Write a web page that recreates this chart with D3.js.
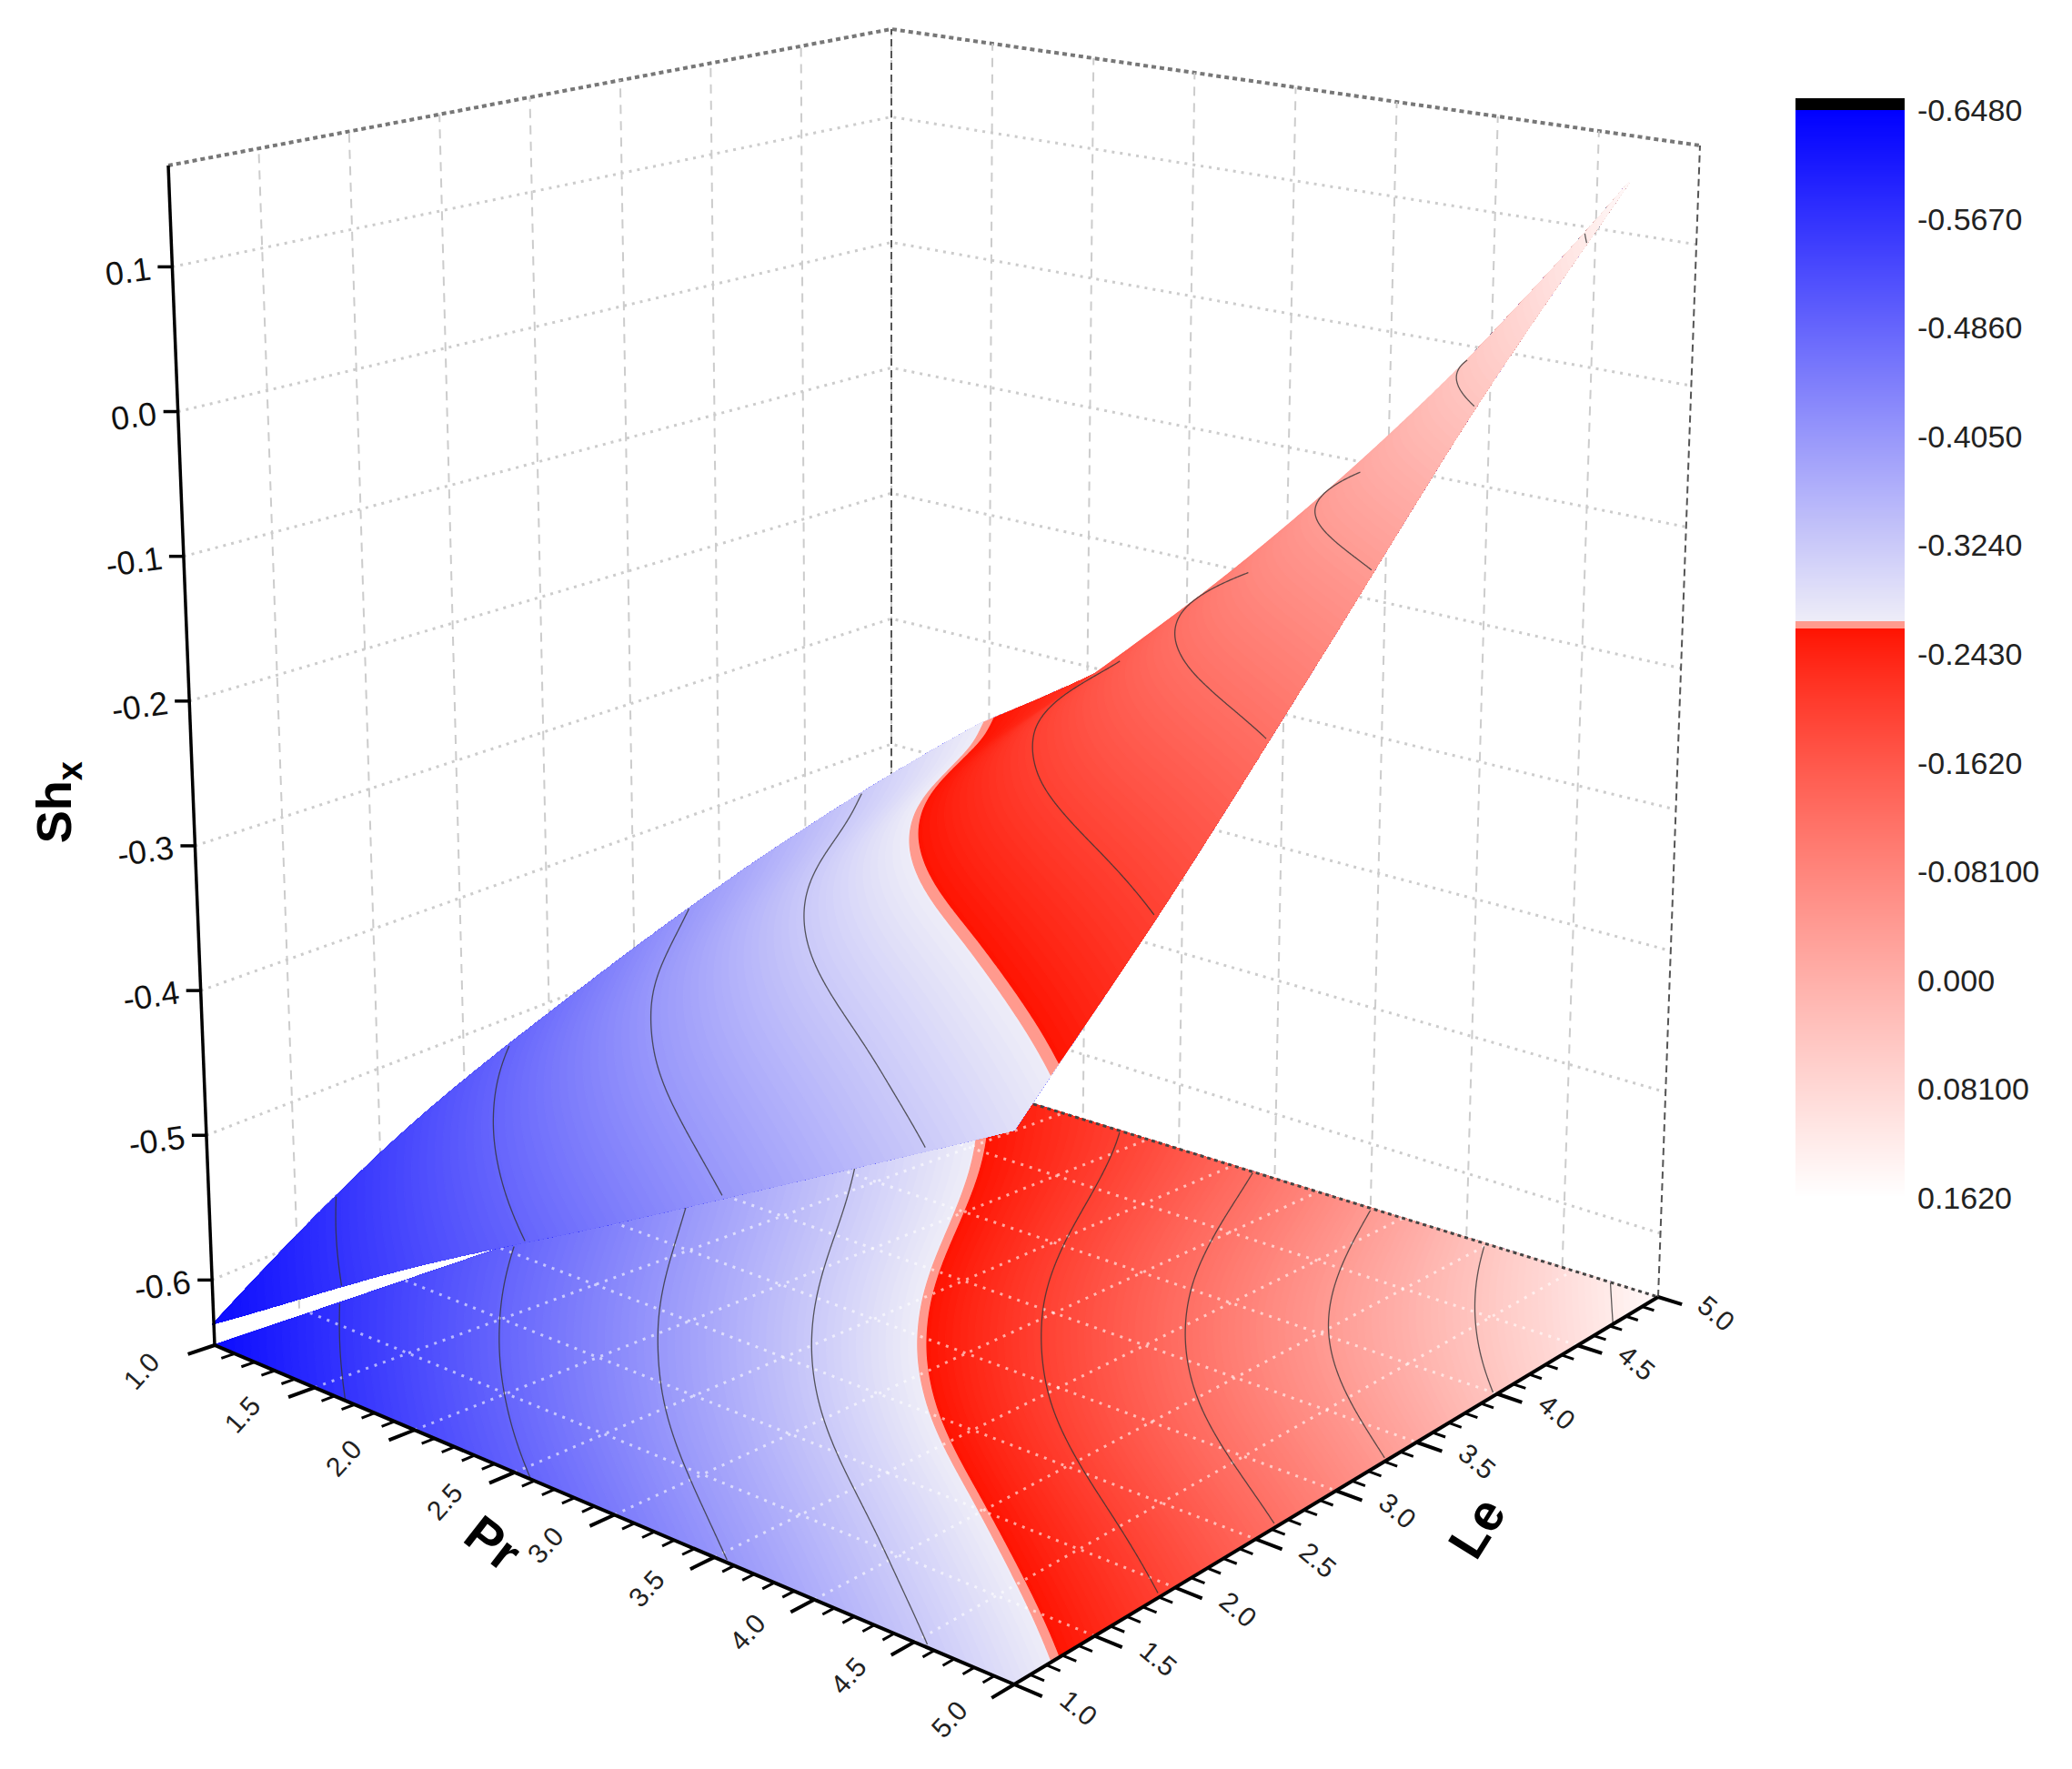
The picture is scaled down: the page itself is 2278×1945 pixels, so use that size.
<!DOCTYPE html>
<html><head><meta charset="utf-8">
<script src="https://cdn.jsdelivr.net/npm/d3@7"></script>
<style>body{margin:0;background:#fff}svg{display:block}text{font-family:"Liberation Sans",Arial,sans-serif}</style>
</head><body>
<svg id="c" width="2278" height="1945"></svg>
<script>
// ---- data ----
const prValues = [1, 2, 3, 4, 5];
const leValues = [1, 2, 3, 4, 5];
// Sh_x grid: rows = Pr, cols = Le
const shRows = [
  [-0.630, -0.535, -0.450, -0.360, -0.268],
  [-0.535, -0.436, -0.344, -0.262, -0.185],
  [-0.452, -0.344, -0.241, -0.150, -0.077],
  [-0.370, -0.265, -0.150, -0.045, 0.042],
  [-0.290, -0.190, -0.077, 0.042, 0.150]
];
const zTicks = [-0.6, -0.5, -0.4, -0.3, -0.2, -0.1, 0.0, 0.1];
const prTicks = [1.0, 1.5, 2.0, 2.5, 3.0, 3.5, 4.0, 4.5, 5.0];
const leTicks = [1.0, 1.5, 2.0, 2.5, 3.0, 3.5, 4.0, 4.5, 5.0];
const cbLabels = ["-0.6480","-0.5670","-0.4860","-0.4050","-0.3240","-0.2430","-0.1620","-0.08100","0.000","0.08100","0.1620"];
const cbValues = [-0.648,-0.567,-0.486,-0.405,-0.324,-0.243,-0.162,-0.081,0,0.081,0.162];
const contourLevels = [-0.567,-0.486,-0.405,-0.324,-0.20,-0.12,-0.04,0.04,0.12];

const svg = d3.select("#c");
const zMin = -0.645, zMax = 0.17;
const su = d3.scaleLinear().domain([1,5]).range([0,1]);
const sv = d3.scaleLinear().domain([1,5]).range([0,1]);
const sw = d3.scaleLinear().domain([zMin,zMax]).range([0,1]);
const Lb=[236,1479], Bb=[1115,1852], Rb=[1823,1426], Kd=[1075,1195];
const Lt=[185,182], Bt=[1115,452], Rtd=[1790,170], Kt=[1085,330];
const Rt=[1869,160], Kw=[980,1156], Kwt=[980,32];
const lerp=(a,b,t)=>[a[0]+(b[0]-a[0])*t,a[1]+(b[1]-a[1])*t];
function bil(p00,p10,p11,p01,u,v){return lerp(lerp(p00,p10,u),lerp(p01,p11,u),v);}
function proj(pr,le,z){
  const u=su(pr), v=sv(le), w=sw(z);
  return lerp(bil(Lb,Bb,Rb,Kd,u,v), bil(Lt,Bt,Rtd,Kt,u,v), w);
}
function leftWall(le,z){const v=sv(le),w=sw(z);return lerp(lerp(Lb,Kw,v),lerp(Lt,Kwt,v),w);}
function rightWall(pr,z){const u=su(pr),w=sw(z);return lerp(lerp(Kw,Rb,u),lerp(Kwt,Rt,u),w);}

// smooth (Catmull-Rom) evaluation of the grid, for rendering only
function cr(p0,p1,p2,p3,t){return 0.5*((2*p1)+(-p0+p2)*t+(2*p0-5*p1+4*p2-p3)*t*t+(-p0+3*p1-3*p2+p3)*t*t*t);}
function g(j,i){
  const jj=Math.max(0,Math.min(4,j)), ii=Math.max(0,Math.min(4,i));
  let v=shRows[jj][ii];
  if(j<0) v=2*shRows[0][ii]-shRows[1][ii]; else if(j>4) v=2*shRows[4][ii]-shRows[3][ii];
  if(i<0) v=2*shRows[jj][0]-shRows[jj][1]; else if(i>4) v=2*shRows[jj][4]-shRows[jj][3];
  return v;
}
function val(pr,le){
  const x=Math.min(3.9999,Math.max(0,le-1)), y=Math.min(3.9999,Math.max(0,pr-1));
  const i=Math.floor(x), j=Math.floor(y), fx=x-i, fy=y-j;
  const r=[];
  for(let k=-1;k<=2;k++) r.push(cr(g(j+k,i-1),g(j+k,i),g(j+k,i+1),g(j+k,i+2),fx));
  return cr(r[0],r[1],r[2],r[3],fy);
}
const blueI=d3.interpolateRgb("#0000ff","#eeedf8");
const redI=d3.interpolateRgb("#ff1200","#ffffff");
function color(v){
  if(v<-0.648) return "#0000ff";
  if(v<-0.267) return blueI((v+0.648)/(0.648-0.267));
  if(v<-0.262) return "#ff9a8e";
  return redI(Math.pow(Math.max(0,(v+0.262)/(0.162+0.262)),0.85));
}
const line=d3.line();

// ---- walls ----
const gw=svg.append("g");
gw.append("path").attr("d",line([Lt,Kwt,Rt])).attr("fill","none").attr("stroke","#777").attr("stroke-width",4).attr("stroke-dasharray","5,4");
for(const t of leTicks.slice(1)) gw.append("path").attr("d",line([leftWall(t,zMin),leftWall(t,zMax)])).attr("stroke","#ccc").attr("stroke-width",2).attr("stroke-dasharray","10,8");
for(const t of prTicks.slice(0,-1)) gw.append("path").attr("d",line([rightWall(t,zMin),rightWall(t,zMax)])).attr("stroke","#ccc").attr("stroke-width",2).attr("stroke-dasharray","10,8");
for(const z of zTicks) gw.append("path").attr("d",line([leftWall(1,z),leftWall(5,z),rightWall(5,z)])).attr("fill","none").attr("stroke","#ccc").attr("stroke-width",3).attr("stroke-dasharray","3,6");
gw.append("path").attr("d",line([Kw,Kwt])).attr("stroke","#555").attr("stroke-width",2).attr("stroke-dasharray","8,5");
gw.append("path").attr("d",line([Rb,Rt])).attr("stroke","#555").attr("stroke-width",2).attr("stroke-dasharray","8,5");

// ---- sampled grid for rendering ----
const M=161, grid=new Array(M*M);
const gPr=d3.scaleLinear().domain([0.5,M-0.5]).range([1,5]).clamp(true);
const gLe=d3.scaleLinear().domain([0.5,M-0.5]).range([1,5]).clamp(true);
for(let j=0;j<M;j++)for(let i=0;i<M;i++) grid[j*M+i]=val(gPr(j+0.5),gLe(i+0.5));
const bandT=[];
for(let t=-0.70;t<0.17;t+=0.004) bandT.push(+t.toFixed(4));
bandT.push(-0.267,-0.262); bandT.sort((a,b)=>a-b);
const bands=d3.contours().size([M,M]).thresholds(bandT)(grid);
function ringPath(ring,onSurface){
  return line(ring.map(([x,y])=>{const pr=gPr(y),le=gLe(x);return proj(pr,le,onSurface?val(pr,le):zMin);}))+"Z";
}
function drawBands(gg,onSurface){
  bands.forEach((b,k)=>{
    if(!b.coordinates.length) return;
    const hi=k+1<bands.length?bands[k+1].value:0.17;
    const c=color((b.value+hi)/2);
    let d="";
    for(const poly of b.coordinates) for(const ring of poly) d+=ringPath(ring,onSurface);
    gg.append("path").attr("d",d).attr("fill",c).attr("fill-rule","evenodd").attr("stroke",c).attr("stroke-width",1.2);
  });
}
const lines=d3.contours().size([M,M]).thresholds(contourLevels)(grid);
const smooth=d3.line().curve(d3.curveBasis);
function contourPaths(onSurface){
  const out=[];
  for(const mp of lines) for(const poly of mp.coordinates) for(const ring of poly){
    let cur=[];
    for(const [x,y] of ring){
      if(x<0.6||x>M-0.6||y<0.6||y>M-0.6){ if(cur.length>1) out.push(cur); cur=[]; continue; }
      const pr=gPr(y), le=gLe(x);
      cur.push(proj(pr,le,onSurface?val(pr,le):zMin));
    }
    if(cur.length>1) out.push(cur);
  }
  return out;
}
const gf=svg.append("g"), gs=svg.append("g");
drawBands(gf,false);
for(const t of prTicks.slice(1,-1)) gf.append("path").attr("d",line([proj(t,1,zMin),proj(t,5,zMin)])).attr("stroke","#fff").attr("stroke-opacity",0.6).attr("stroke-width",3).attr("stroke-dasharray","3,7");
for(const t of leTicks.slice(1,-1)) gf.append("path").attr("d",line([proj(1,t,zMin),proj(5,t,zMin)])).attr("stroke","#fff").attr("stroke-opacity",0.6).attr("stroke-width",3).attr("stroke-dasharray","3,7");
gf.append("path").attr("d",line([proj(1,5,zMin),proj(5,5,zMin)])).attr("stroke","#444").attr("stroke-width",3).attr("stroke-dasharray","4,4");
for(const p of contourPaths(false)) gf.append("path").attr("d",smooth(p)).attr("fill","none").attr("stroke","#333").attr("stroke-width",1.3).attr("stroke-opacity",0.8);
drawBands(gs,true);
for(const p of contourPaths(true)) gs.append("path").attr("d",smooth(p)).attr("fill","none").attr("stroke","#333").attr("stroke-width",1.3).attr("stroke-opacity",0.8);

// ---- axes ----
const ga=svg.append("g");
ga.append("path").attr("d",line([Lb,Lt])).attr("stroke","#000").attr("stroke-width",3.5);
for(const z of zTicks){
  const p=leftWall(1,z);
  ga.append("path").attr("d",line([p,[p[0]-16,p[1]]])).attr("stroke","#000").attr("stroke-width",3.5);
  ga.append("text").attr("x",p[0]-24).attr("y",p[1]+14).attr("text-anchor","end").attr("font-size",36).attr("fill","#111")
    .attr("transform",`rotate(-8,${p[0]-24},${p[1]})`).text(z.toFixed(1));
}
const zmid=leftWall(1,-0.27);
ga.append("text").attr("transform",`translate(78,${zmid[1]}) rotate(-90)`).attr("text-anchor","middle").attr("font-size",54).attr("font-weight","bold")
  .html('Sh<tspan font-size="38" dy="12">x</tspan>');
ga.append("path").attr("d",line([proj(1,1,zMin),proj(5,1,zMin)])).attr("stroke","#000").attr("stroke-width",4);
for(let t=1;t<=5.0001;t+=0.1){
  const major=Math.abs(t*2-Math.round(t*2))<1e-6;
  ga.append("path").attr("d",line([proj(t,1,zMin),proj(t,1-(major?0.14:0.07),zMin)])).attr("stroke","#000").attr("stroke-width",major?4:3);
}
for(const t of prTicks){
  const p=proj(t,1-0.28,zMin);
  ga.append("text").attr("x",p[0]).attr("y",p[1]).attr("text-anchor","end").attr("font-size",30).attr("fill","#222")
    .attr("transform",`rotate(-48,${p[0]},${p[1]})`).text(t.toFixed(1));
}
ga.append("text").attr("font-size",56).attr("font-weight","bold").attr("text-anchor","middle")
  .attr("transform","translate(530,1712) rotate(38)").text("Pr");
ga.append("path").attr("d",line([proj(5,1,zMin),proj(5,5,zMin)])).attr("stroke","#000").attr("stroke-width",4);
for(let t=1;t<=5.0001;t+=0.1){
  const major=Math.abs(t*2-Math.round(t*2))<1e-6;
  ga.append("path").attr("d",line([proj(5,t,zMin),proj(5+(major?0.14:0.07),t,zMin)])).attr("stroke","#000").attr("stroke-width",major?4:3);
}
for(const t of leTicks){
  const p=proj(5+0.22,t,zMin);
  ga.append("text").attr("x",p[0]).attr("y",p[1]).attr("text-anchor","start").attr("font-size",30).attr("fill","#222")
    .attr("transform",`rotate(40,${p[0]},${p[1]})`).text(t.toFixed(1));
}
ga.append("text").attr("font-size",56).attr("font-weight","bold").attr("text-anchor","middle")
  .attr("transform","translate(1640,1690) rotate(-58)").text("Le");

// ---- colorbar ----
const cbY=d3.scaleLinear().domain([-0.648,0.162]).range([121,1317]);
const gc=svg.append("g");
gc.append("rect").attr("x",1974).attr("y",108).attr("width",120).attr("height",13).attr("fill","#000");
for(let y=121;y<1317;y+=2){
  gc.append("rect").attr("x",1974).attr("y",y).attr("width",120).attr("height",2.6).attr("fill",color(cbY.invert(y+1)));
}
cbLabels.forEach((s,k)=>{
  gc.append("text").attr("x",2108).attr("y",cbY(cbValues[k])+12).attr("font-size",34).attr("fill","#222").text(s);
});
</script>
</body></html>
